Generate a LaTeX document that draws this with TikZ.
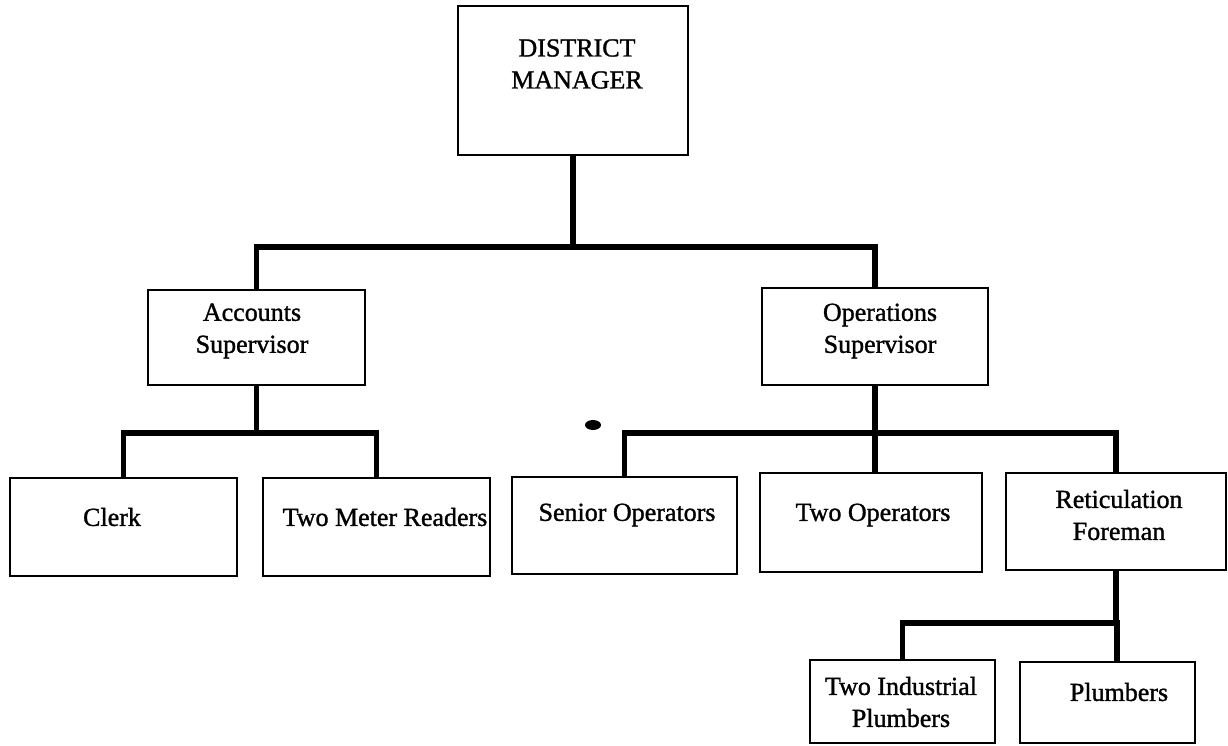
\documentclass[tikz,border=0pt]{standalone}
\usepackage{fontspec}
\setmainfont{Liberation Serif}
\newfontfamily\chartfont{Liberation Serif}[FakeBold=1.2]
\begin{document}
\begin{tikzpicture}[x=1pt,y=-1pt,
  box/.style={draw=black,line width=2.6pt,rectangle,inner sep=0pt},
  conn/.style={draw=black,line width=5.5pt},
  lbl/.style={font=\chartfont\fontsize{26}{32}\selectfont,align=center,inner sep=0pt,text=black}]
\useasboundingbox (0,0) rectangle (1228,746);
\fill[white] (0,0) rectangle (1228,746);

% boxes, placed by their centres
\node[box,minimum width=230pt,minimum height=149pt] (dm) at (573,80.5) {};
\node[box,minimum width=217pt,minimum height=95pt] (acc) at (256.5,337.5) {};
\node[box,minimum width=226pt,minimum height=97pt] (ops) at (875,336.5) {};
\node[box,minimum width=227pt,minimum height=98pt] (clerk) at (123.5,527) {};
\node[box,minimum width=227pt,minimum height=98pt] (meter) at (376.5,527) {};
\node[box,minimum width=225pt,minimum height=97pt] (senior) at (624.5,525.5) {};
\node[box,minimum width=222pt,minimum height=99pt] (twoop) at (871,522.5) {};
\node[box,minimum width=220pt,minimum height=97pt] (retic) at (1116,521.5) {};
\node[box,minimum width=185pt,minimum height=83pt] (indus) at (902.5,701.5) {};
\node[box,minimum width=175pt,minimum height=81pt] (plumb) at (1107.5,702.5) {};

% labels
\node[lbl] (tdm) at (577,64) {DISTRICT\\MANAGER};
\node[lbl] (tacc) at (252,331) {Accounts\\Supervisor};
\node[lbl] (tops) at (880,331) {Operations\\Supervisor};
\node[lbl] (tclerk) at (112,517) {Clerk};
\node[lbl] (tmeter) at (385,517) {Two Meter Readers};
\node[lbl] (tsenior) at (627,515) {Senior Operators};
\node[lbl] (ttwoop) at (873,515) {Two Operators};
\node[lbl] (tretic) at (1119,515) {Reticulation\\Foreman};
\node[lbl] (tindus) at (901,702) {Two Industrial\\Plumbers};
\node[lbl] (tplumb) at (1119,692) {Plumbers};

% bus lines
\coordinate (b1) at (573,247);
\coordinate (b2) at (256.5,433);
\coordinate (b3) at (875,433);
\coordinate (b4) at (1117,623);

% District Manager to the two supervisors
\draw[conn] (dm.south) -- (b1);
\draw[conn] (acc.north) |- (b1) -| (ops.north);

% Accounts Supervisor to its staff
\draw[conn] (acc.south) -- (b2);
\draw[conn] (clerk.north) |- (b2) -| (meter.north);

% Operations Supervisor to its staff
\draw[conn] (ops.south) -- (b3);
\draw[conn] (senior.north) |- (b3) -| (retic.north);
\draw[conn] (b3) -- (b3 |- twoop.north);

% Reticulation Foreman to the plumbers
\draw[conn] (retic.south) -- (retic.south |- b4);
\draw[conn] (indus.north) |- (b4) -- (b4 |- plumb.north);

% ink blot
\fill[black] (593,425) ellipse (8pt and 5pt);
\end{tikzpicture}
\end{document}
